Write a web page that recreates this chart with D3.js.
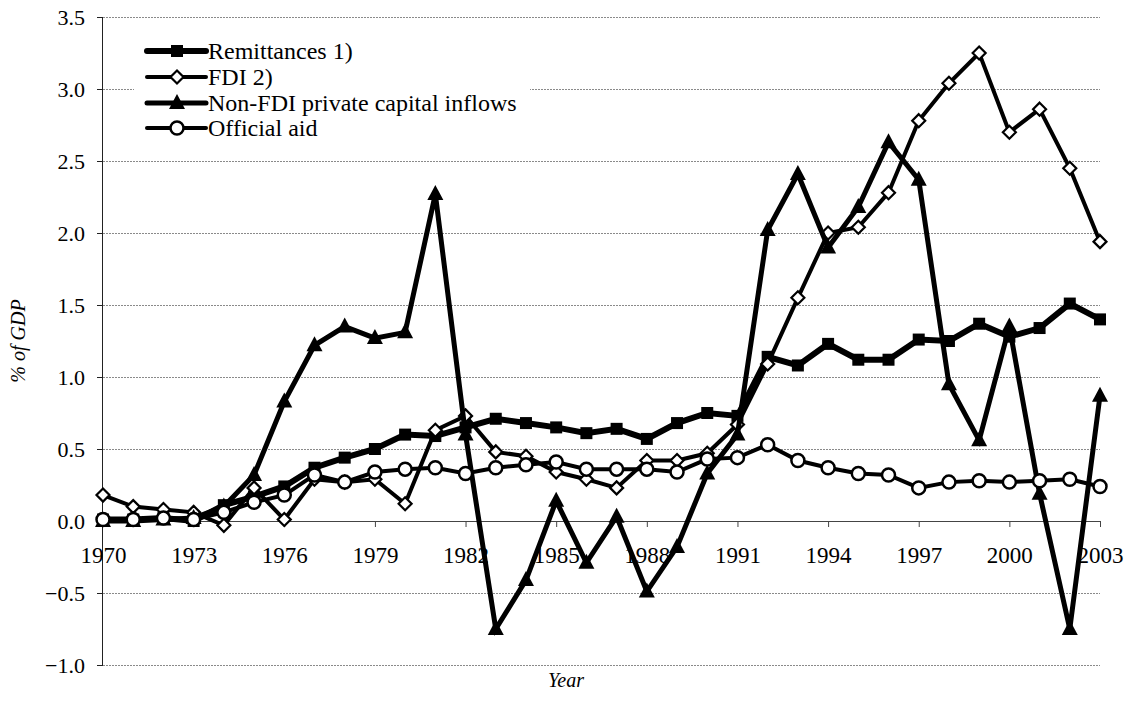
<!DOCTYPE html>
<html><head><meta charset="utf-8">
<script src="https://cdn.jsdelivr.net/npm/d3@7"></script>
<style>body{margin:0;background:#fff}svg{display:block}</style>
</head><body><svg id="c" width="1132" height="708"></svg>
<script>
const years = d3.range(1970, 2004);
const remittances = [0.01,0.01,0.02,0.0,0.11,0.17,0.24,0.37,0.44,0.50,0.60,0.59,0.65,0.71,0.68,0.65,0.61,0.64,0.57,0.68,0.75,0.73,1.14,1.08,1.23,1.12,1.12,1.26,1.25,1.37,1.28,1.34,1.51,1.40];
const fdi = [0.18,0.10,0.08,0.06,-0.03,0.23,0.01,0.29,0.27,0.29,0.12,0.63,0.73,0.48,0.45,0.34,0.29,0.23,0.42,0.42,0.47,0.67,1.09,1.55,2.00,2.04,2.28,2.78,3.04,3.25,2.70,2.86,2.45,1.94];
const nonFdi = [0.0,0.0,0.01,0.02,0.10,0.32,0.83,1.22,1.35,1.27,1.31,2.27,0.60,-0.75,-0.41,0.14,-0.29,0.03,-0.49,-0.18,0.33,0.60,2.02,2.41,1.90,2.18,2.63,2.37,0.95,0.56,1.35,0.19,-0.75,0.87];
const officialAid = [0.01,0.01,0.02,0.01,0.06,0.13,0.18,0.32,0.27,0.34,0.36,0.37,0.33,0.37,0.39,0.41,0.36,0.36,0.36,0.34,0.43,0.44,0.53,0.42,0.37,0.33,0.32,0.23,0.27,0.28,0.27,0.28,0.29,0.24];
const yTicks = [-1.0,-0.5,0.0,0.5,1.0,1.5,2.0,2.5,3.0,3.5];
const xTickYears = d3.range(1970, 2004, 3);
const seriesNames = ["Remittances 1)","FDI 2)","Non-FDI private capital inflows","Official aid"];

const FONT = "'Liberation Serif'";
const svg = d3.select("#c");
const x = d3.scaleLinear().domain([1970,2003]).range([103,1100]);
const y = d3.scaleLinear().domain([-1,3.5]).range([665,17]);

// gridlines
svg.append("g").selectAll("line").data(yTicks).join("line")
  .attr("x1",103).attr("x2",1100).attr("y1",d=>y(d)+0.5).attr("y2",d=>y(d)+0.5)
  .attr("stroke","#8a8a8a").attr("stroke-width",1).attr("stroke-dasharray","2,1");

// y axis
const yAxis = d3.axisLeft(y).tickValues(yTicks).tickFormat(d3.format(".1f")).tickSize(6).tickPadding(12);
const gy = svg.append("g").attr("transform","translate(103,0)").call(yAxis);
gy.select(".domain").attr("stroke","#222").attr("d","M-0.5,"+y(3.5)+"V"+y(-1));
gy.selectAll(".tick line").attr("stroke","#222");
gy.selectAll("text").attr("fill","#000").style("font-family",FONT).style("font-size","22px");

// x axis at zero
const xAxis = d3.axisBottom(x).tickValues(xTickYears).tickFormat(d3.format("d")).tickSize(6).tickPadding(20);
const gx = svg.append("g").attr("transform","translate(0,"+y(0)+")").call(xAxis);
gx.select(".domain").attr("stroke","#444").attr("d","M103,0.5H1100");
gx.selectAll(".tick line").attr("stroke","#444");
gx.selectAll("text").attr("fill","#000").style("font-family",FONT).style("font-size","23px");

// axis titles
svg.append("text").attr("x",566).attr("y",687).attr("text-anchor","middle").style("font-style","italic").style("font-size","20px").style("font-family",FONT).text("Year");
svg.append("text").attr("transform","translate(25,341) rotate(-90)").attr("text-anchor","middle").style("font-style","italic").style("font-size","20px").style("font-family",FONT).text("% of GDP");

const data = [
  {name:seriesNames[0], vals:remittances, w:6, marker:"square"},
  {name:seriesNames[1], vals:fdi, w:4, marker:"diamond"},
  {name:seriesNames[2], vals:nonFdi, w:5, marker:"triangle"},
  {name:seriesNames[3], vals:officialAid, w:4, marker:"circle"}
];

function drawMarker(g, type, cx, cy){
  if(type==="square"){
    g.append("rect").attr("x",cx-6).attr("y",cy-6).attr("width",12).attr("height",12).attr("fill","#000");
  } else if(type==="diamond"){
    g.append("path").attr("d","M0,-6.5L6.5,0L0,6.5L-6.5,0Z")
     .attr("transform","translate("+cx+","+cy+")").attr("fill","#fff").attr("stroke","#000").attr("stroke-width",2.2);
  } else if(type==="triangle"){
    g.append("path").attr("d","M0,-9L8,6L-8,6Z").attr("transform","translate("+cx+","+cy+")").attr("fill","#000");
  } else {
    g.append("circle").attr("cx",cx).attr("cy",cy).attr("r",6.5).attr("fill","#fff").attr("stroke","#000").attr("stroke-width",2.5);
  }
}

const line = d3.line().x((d,i)=>x(years[i])).y(d=>y(d));
data.forEach(s=>{
  const g = svg.append("g");
  g.append("path").attr("d",line(s.vals)).attr("fill","none").attr("stroke","#000").attr("stroke-width",s.w).attr("stroke-linejoin","miter");
  s.vals.forEach((v,i)=>drawMarker(g,s.marker,x(years[i]),y(v)));
});

// legend
const lg = svg.append("g");
lg.append("rect").attr("x",134).attr("y",32).attr("width",396).attr("height",110).attr("fill","#fff");
const ly = [51,77,103,128];
data.forEach((s,i)=>{
  lg.append("line").attr("x1",147).attr("x2",206).attr("y1",ly[i]).attr("y2",ly[i]).attr("stroke","#000").attr("stroke-width",s.w).attr("stroke-linecap","round");
  drawMarker(lg,s.marker,177,ly[i]);
  lg.append("text").attr("x",208).attr("y",ly[i]+8).style("font-size","24px").style("font-family",FONT).text(s.name);
});
</script></body></html>
